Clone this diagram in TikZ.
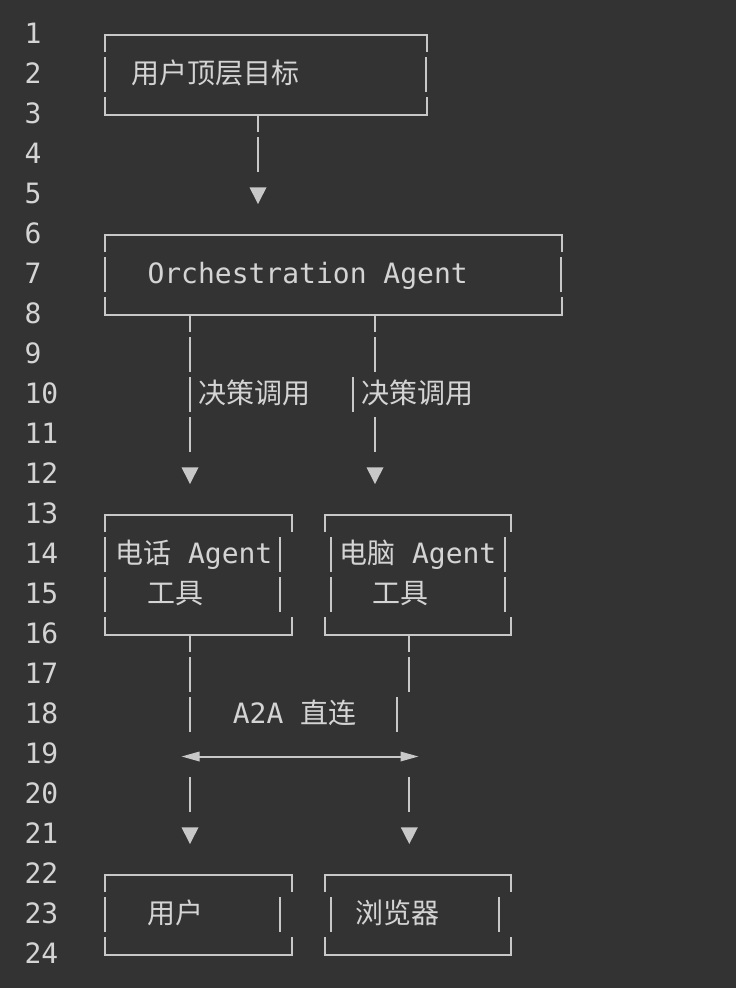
\documentclass[tikz,border=0pt]{standalone}
\usepackage{fontspec}
\setmainfont{DejaVu Sans Mono}
\newfontfamily\cjk{Noto Sans CJK SC}
\definecolor{bgc}{HTML}{333333}
\definecolor{fgc}{HTML}{C8C8C8}
\definecolor{txc}{HTML}{D4D4D4}
\tikzset{
  glyph/.style={draw=fgc, line width=2.2pt, line cap=butt, line join=miter},
  txt/.style={anchor=base west, inner sep=0pt, outer sep=0pt, text=txc, font=\fontsize{28}{28}\selectfont},
  lnum/.style={txt},
}
% vertical bar glyph in one text line
\newcommand\gbar[2]{\draw[glyph] (#1,#2-0.45) -- (#1,#2+0.425);}
% ascii box frame: left x, right x, top line, bottom line
\newcommand\asciibox[4]{%
  \draw[glyph] (#1,#3+0.425) -- (#1,#3) -- (#2,#3) -- (#2,#3+0.425);
  \draw[glyph] (#1,#4-0.45) -- (#1,#4) -- (#2,#4) -- (#2,#4-0.45);}
% downward arrow tip glyph
\newcommand\downtip[2]{\fill[fgc] (#1-8.5,#2-0.19) -- (#1+8.5,#2-0.19) -- (#1,#2+0.225) -- cycle;}
\begin{document}
\begin{tikzpicture}[x=1pt, y=-40pt]
\path[use as bounding box, fill=bgc] (0,0.125) rectangle (736,24.825);
% line numbers
\foreach \n in {1,...,24} { \node[lnum] (ln\n) at (24.5,\n+0.2125) {\n}; }

% box A
\asciibox{105}{427}{1}{3}
\gbar{105}{2}\gbar{426}{2}
\node[txt] (goal) at (131,2.2125) {\cjk 用户顶层目标};

% A -> B
\coordinate (a-out) at (258,3);
\draw[glyph] (a-out) -- ++(0,0.425);
\gbar{258}{4}
\downtip{258}{5}

% box B
\asciibox{105}{562}{6}{8}
\gbar{105}{7}\gbar{561}{7}
\node[txt] (orch) at (147.5,7.2125) {Orchestration Agent};

% B -> C and B -> D
\coordinate (b-outl) at (190,8);
\coordinate (b-outr) at (375,8);
\draw[glyph] (b-outl) -- ++(0,0.425);
\draw[glyph] (b-outr) -- ++(0,0.425);
\gbar{190}{9}\gbar{375}{9}
\gbar{190}{10}\gbar{352.7}{10}
\node[txt] (lab1) at (198.5,10.2125) {\cjk 决策调用};
\node[txt] (lab2) at (361.2,10.2125) {\cjk 决策调用};
\gbar{190}{11}\gbar{375}{11}
\downtip{190}{12}\downtip{375}{12}

% box C
\asciibox{105}{292}{13}{16}
\gbar{105}{14}\gbar{280}{14}
\gbar{105}{15}\gbar{280}{15}
\node[txt] (phone) at (115.2,14.2125) {{\cjk 电话} Agent};
\node[txt] (phonet) at (147.8,15.2125) {\cjk 工具};

% box D
\asciibox{325}{511}{13}{16}
\gbar{330.7}{14}\gbar{505}{14}
\gbar{330.7}{15}\gbar{505}{15}
\node[txt] (pc) at (339.2,14.2125) {{\cjk 电脑} Agent};
\node[txt] (pct) at (372.5,15.2125) {\cjk 工具};

% C -> E, D -> F
\coordinate (c-out) at (190,16);
\coordinate (d-out) at (409.3,16);
\draw[glyph] (c-out) -- ++(0,0.425);
\draw[glyph] (d-out) -- ++(0,0.425);
\gbar{190}{17}\gbar{409.3}{17}
\gbar{190}{18}\gbar{397.3}{18}
\node[txt] (a2a) at (232.8,18.2125) {A2A {\cjk 直连}};
% double arrow
\coordinate (h-l) at (199,19.0375);
\coordinate (h-r) at (401,19.0375);
\draw[draw=fgc, line width=2pt] (h-l) -- (h-r);
\fill[fgc] (181.7,19.0375) -- (199.5,18.9125) -- (199.5,19.1625) -- cycle;
\fill[fgc] (418.3,19.0375) -- (400.5,18.9125) -- (400.5,19.1625) -- cycle;
\gbar{190}{20}\gbar{409.3}{20}
\downtip{190}{21}\downtip{409.3}{21}

% box E
\asciibox{105}{292}{22}{24}
\gbar{105}{23}\gbar{280}{23}
\node[txt] (user) at (147.8,23.2125) {\cjk 用户};

% box F
\asciibox{325}{511}{22}{24}
\gbar{330.7}{23}\gbar{499}{23}
\node[txt] (browser) at (355.2,23.2125) {\cjk 浏览器};
\end{tikzpicture}
\end{document}
